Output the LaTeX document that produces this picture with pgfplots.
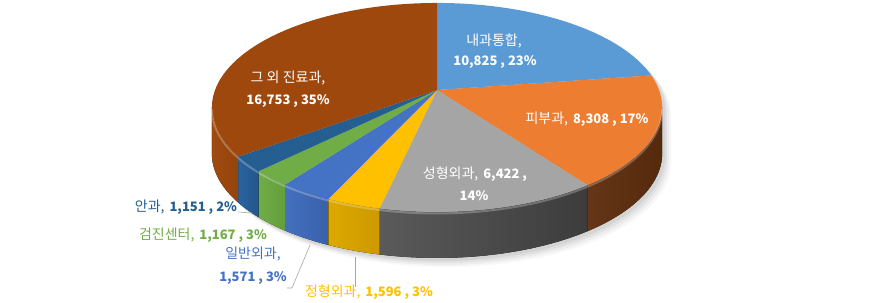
\documentclass[border=0pt]{standalone}
\usepackage{pgfplots}
\pgfplotsset{compat=1.18}
\usepackage{pgfplotstable}
\usepackage{fontspec}
\setmainfont{Noto Sans CJK KR}

\definecolor{top0}{HTML}{5B9BD5}
\definecolor{top1}{HTML}{ED7D31}
\definecolor{top2}{HTML}{A5A5A5}
\definecolor{top3}{HTML}{FFC000}
\definecolor{top4}{HTML}{4472C4}
\definecolor{top5}{HTML}{70AD47}
\definecolor{top6}{HTML}{255E91}
\definecolor{top7}{HTML}{9E480E}
\definecolor{sideL1}{HTML}{653617}
\definecolor{sideR1}{HTML}{55290C}
\definecolor{sideL2}{HTML}{5A5A5A}
\definecolor{sideR2}{HTML}{3C3C3C}
\definecolor{sideL3}{HTML}{DDA800}
\definecolor{sideR3}{HTML}{CC9A00}
\definecolor{sideL4}{HTML}{4470C0}
\definecolor{sideR4}{HTML}{3A60AA}
\definecolor{sideL5}{HTML}{70AD47}
\definecolor{sideR5}{HTML}{62A03C}
\definecolor{sideL6}{HTML}{2A64A0}
\definecolor{sideR6}{HTML}{22568A}
\definecolor{sideL7}{HTML}{A04A10}
\definecolor{sideR7}{HTML}{94440D}
\definecolor{leader}{HTML}{A6A6A6}

% slice values (clockwise from 12 o'clock)
\pgfplotstableread{
id value
0 10825
1 8308
2 6422
3 1596
4 1571
5 1167
6 1151
7 16753
}\piedata

\def\total{0}
\foreach \i in {0,...,7}{%
  \pgfplotstablegetelem{\i}{value}\of\piedata
  \xdef\total{\fpeval{\total+\pgfplotsretval}}%
}
\def\cum{0}
\foreach \i in {0,...,7}{%
  \pgfplotstablegetelem{\i}{value}\of\piedata
  \expandafter\xdef\csname sa\i\endcsname{\fpeval{round(360*\cum/\total,4)}}%
  \xdef\cum{\fpeval{\cum+\pgfplotsretval}}%
  \expandafter\xdef\csname ea\i\endcsname{\fpeval{round(360*\cum/\total,4)}}%
  \expandafter\xdef\csname vs\i\endcsname{\fpeval{max(\csname sa\i\endcsname,99.6)}}%
  \expandafter\xdef\csname ve\i\endcsname{\fpeval{min(\csname ea\i\endcsname,260.4)}}%
}

% perspective projection of the disc rim (image pixels, y downward)
\pgfmathdeclarefunction{px}{1}{\pgfmathparse{437+222*sin(#1)/(1+0.167*cos(#1))}}
\pgfmathdeclarefunction{py}{1}{\pgfmathparse{90-101.6*cos(#1)/(1+0.167*cos(#1))}}
\def\depth{46}

\newcommand\kr{\fontsize{14}{16}\selectfont}
\newcommand\nm{\fontsize{13}{16}\selectfont\bfseries}
\newcommand\gap{\hspace{0.35em}}
\newcommand\shadowlayer[2]{%
  \fill[black, opacity=#2]
    plot[domain=-99.6:99.6, samples=60, variable=\t] (axis cs:{px(\t)+#1},{py(\t)+#1})
    -- plot[domain=99.6:260.4, samples=60, variable=\t] (axis cs:{px(\t)+#1},{py(\t)+\depth+#1})
    -- cycle;}

\begin{document}
\begin{tikzpicture}
\begin{axis}[
  hide axis, scale only axis, width=875pt, height=302pt,
  xmin=0, xmax=875, ymin=0, ymax=302, y dir=reverse, clip=false]

\path (axis cs:0,0) rectangle (axis cs:875,302);

% soft shadow
\shadowlayer{9}{0.03}
\shadowlayer{7}{0.04}
\shadowlayer{5}{0.05}
\shadowlayer{3}{0.06}

% sides
\pgfplotsinvokeforeach{1,...,7}{
  \fill[left color=sideL#1, right color=sideR#1]
    plot[domain=\csname vs#1\endcsname:\csname ve#1\endcsname, samples=30, variable=\t]
      (axis cs:{px(\t)},{py(\t)})
    -- plot[domain=\csname ve#1\endcsname:\csname vs#1\endcsname, samples=30, variable=\t]
      (axis cs:{px(\t)},{py(\t)+\depth})
    -- cycle;
}
% top faces
\pgfplotsinvokeforeach{0,...,7}{
  \fill[top#1] (axis cs:437,90)
    -- plot[domain=\csname sa#1\endcsname:\csname ea#1\endcsname, samples=40, variable=\t]
      (axis cs:{px(\t)},{py(\t)})
    -- cycle;
}
% rim highlight (bevel)
\draw[white, opacity=0.25, line width=2pt]
  plot[domain=99.6:260.4, samples=80, variable=\t] (axis cs:{px(\t)},{py(\t)+1.5});

% labels on slices
\node[text=white] at (axis cs:494,41) {\kr 내과통합,};
\node[text=white] at (axis cs:495,62) {\nm 10,825 , 23\%};
\node[text=white] at (axis cs:288,78) {\kr 그 외 진료과,};
\node[text=white] at (axis cs:288,101) {\nm 16,753 , 35\%};
\node[text=white] at (axis cs:587,119) {\kr 피부과,\gap\nm 8,308 , 17\%};
\node[text=white] at (axis cs:475,174) {\kr 성형외과,\gap\nm 6,422 ,};
\node[text=white] at (axis cs:474,196) {\nm 14\%};

% outside labels
\draw[leader, line width=0.6pt] (axis cs:238,212) -- (axis cs:252,213);
\draw[leader, line width=0.6pt] (axis cs:287,288) -- (axis cs:292,288) -- (axis cs:310,245);
\draw[leader, line width=0.6pt] (axis cs:355,257) -- (axis cs:355,287);
\node[text=top6] at (axis cs:186,207) {\kr 안과,\gap\nm 1,151 , 2\%};
\node[text=top5] at (axis cs:203,235) {\kr 검진센터,\gap\nm 1,167 , 3\%};
\node[text=top4] at (axis cs:253,254) {\kr 일반외과,};
\node[text=top4] at (axis cs:253,278) {\nm 1,571 , 3\%};
\node[text=top3] at (axis cs:369,292) {\kr 정형외과,\gap\nm 1,596 , 3\%};
\end{axis}
\end{tikzpicture}
\end{document}
